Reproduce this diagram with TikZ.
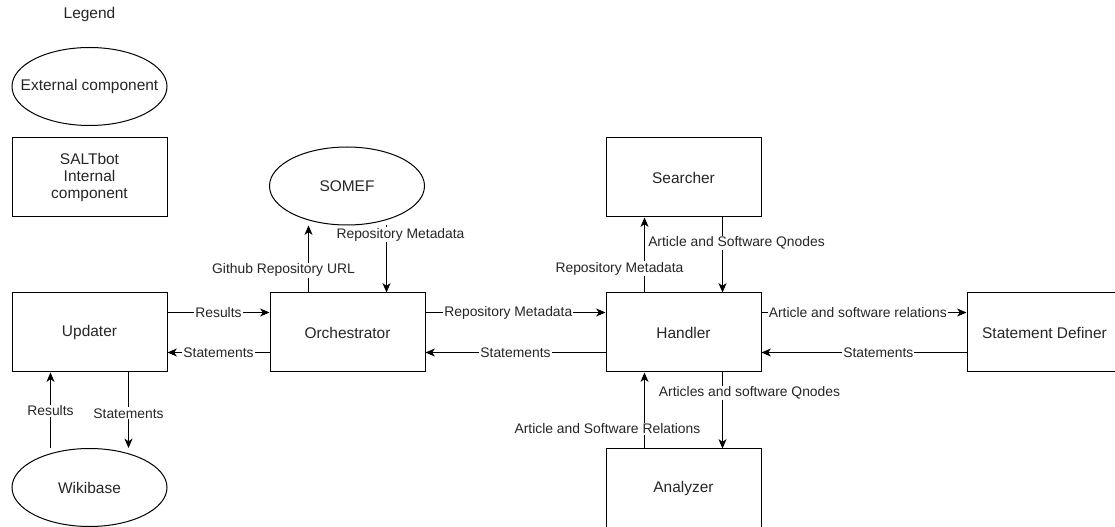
\documentclass[tikz,border=0pt]{standalone}
\usepackage{fontspec}
\setmainfont{Liberation Sans}
\usetikzlibrary{arrows.meta, calc, shapes.geometric}

\tikzset{
  comp/.style={draw, rectangle, minimum width=116.25pt, minimum height=59.25pt,
    align=center, text=black!85, font=\fontsize{11.6}{13.1}\selectfont},
  extcomp/.style={draw, ellipse, minimum width=116.25pt, minimum height=58.5pt,
    inner xsep=-20pt, inner ysep=0pt, text=black!85, font=\fontsize{11.6}{13.1}\selectfont},
  flow/.style={line width=0.75pt, -{Stealth[length=7pt, width=6pt, inset=2pt]}},
  lbl/.style={fill=white, inner sep=0.8pt, text=black!85, font=\fontsize{10.4}{12}\selectfont},
}

\begin{document}
\begin{tikzpicture}[x=0.75pt, y=-0.75pt, line width=0.75pt]
  \useasboundingbox (0,0) rectangle (1115,527);
  % Legend
  \node[text=black!85, font=\fontsize{11.6}{13.1}\selectfont] (legend) at (89.5,15) {Legend};
  \node[extcomp] (lgext) at (89.5,86.5) {External component};
  \node[comp] (lgint) at (89.5,177.5) {SALTbot\\Internal\\component};
  % Components
  \node[comp] (upd) at (89.5,332.5) {Updater};
  \node[comp] (orc) at (347.5,332.5) {Orchestrator};
  \node[comp] (hdl) at (683.5,332.5) {Handler};
  \node[comp] (src) at (683.5,177.5) {Searcher};
  \node[comp] (ana) at (683.5,488.5) {Analyzer};
  \node[comp] (sdf) at (1044.5,332.5) {Statement Definer};
  \node[extcomp] (somef) at (347,186) {SOMEF};
  \node[extcomp] (wik) at (89.5,487.5) {Wikibase};
  % Ports on the box sides
  \coordinate (updA) at ($(upd.north east)!.25!(upd.south east)$);
  \coordinate (updB) at ($(upd.north east)!.75!(upd.south east)$);
  \coordinate (updC) at ($(upd.south west)!.25!(upd.south east)$);
  \coordinate (updD) at ($(upd.south west)!.75!(upd.south east)$);
  \coordinate (orcA) at ($(orc.north west)!.25!(orc.south west)$);
  \coordinate (orcB) at ($(orc.north west)!.75!(orc.south west)$);
  \coordinate (orcC) at ($(orc.north east)!.25!(orc.south east)$);
  \coordinate (orcD) at ($(orc.north east)!.75!(orc.south east)$);
  \coordinate (orcE) at ($(orc.north west)!.25!(orc.north east)$);
  \coordinate (orcF) at ($(orc.north west)!.75!(orc.north east)$);
  \coordinate (hdlA) at ($(hdl.north west)!.25!(hdl.south west)$);
  \coordinate (hdlB) at ($(hdl.north west)!.75!(hdl.south west)$);
  \coordinate (hdlC) at ($(hdl.north east)!.25!(hdl.south east)$);
  \coordinate (hdlD) at ($(hdl.north east)!.75!(hdl.south east)$);
  \coordinate (hdlE) at ($(hdl.north west)!.25!(hdl.north east)$);
  \coordinate (hdlF) at ($(hdl.north west)!.75!(hdl.north east)$);
  \coordinate (hdlG) at ($(hdl.south west)!.25!(hdl.south east)$);
  \coordinate (hdlH) at ($(hdl.south west)!.75!(hdl.south east)$);
  \coordinate (sdfA) at ($(sdf.north west)!.25!(sdf.south west)$);
  \coordinate (sdfB) at ($(sdf.north west)!.75!(sdf.south west)$);
  % Updater <-> Orchestrator
  \draw[flow] (updA) -- (orcA) node[lbl, midway] {Results};
  \draw[flow] (orcB) -- (updB) node[lbl, midway] {Statements};
  % Updater <-> Wikibase
  \draw[flow] (updC |- wik.north) -- (updC) node[lbl, pos=0.49] {Results};
  \draw[flow] (updD) -- (updD |- wik.north) node[lbl, pos=0.54] {Statements};
  % Orchestrator <-> SOMEF
  \draw[flow] (orcE) -- (orcE |- somef.south)
    node[lbl, pos=0.33, xshift=-18.75pt] {Github Repository URL};
  \draw[flow] (orcF |- somef.south) -- (orcF)
    node[lbl, pos=0.14, xshift=10.5pt] {Repository Metadata};
  % Orchestrator <-> Handler
  \draw[flow] (orcC) -- (hdlA) node[lbl, pos=0.46] {Repository Metadata};
  \draw[flow] (hdlB) -- (orcD) node[lbl, pos=0.5] {Statements};
  % Handler <-> Searcher
  \draw[flow] (hdlE) -- (hdlE |- src.south)
    node[lbl, pos=0.32, xshift=-18.75pt] {Repository Metadata};
  \draw[flow] (hdlF |- src.south) -- (hdlF)
    node[lbl, pos=0.34, xshift=10.5pt] {Article and Software Qnodes};
  % Handler <-> Statement Definer
  \draw[flow] (hdlC) -- (sdfA) node[lbl, pos=0.47] {Article and software relations};
  \draw[flow] (sdfB) -- (hdlD) node[lbl, pos=0.43] {Statements};
  % Handler <-> Analyzer
  \draw[flow] (hdlH) -- (hdlH |- ana.north)
    node[lbl, pos=0.27, xshift=20.25pt] {Articles and software Qnodes};
  \draw[flow] (hdlG |- ana.north) -- (hdlG)
    node[lbl, pos=0.26, xshift=-27.75pt] {Article and Software Relations};
\end{tikzpicture}
\end{document}
